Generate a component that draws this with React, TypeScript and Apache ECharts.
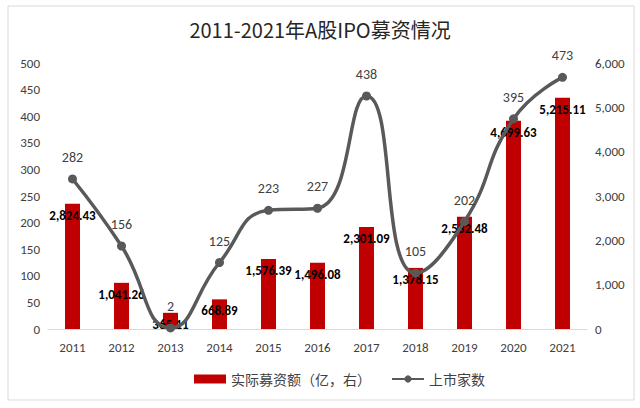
import React, { useEffect, useRef } from "react";
import * as echarts from "echarts";

const years = ["2011", "2012", "2013", "2014", "2015", "2016", "2017", "2018", "2019", "2020", "2021"];
const amounts = [2824.43, 1041.26, 365.11, 668.89, 1576.39, 1496.08, 2301.09, 1378.15, 2532.48, 4699.63, 5215.11];
const counts = [282, 156, 2, 125, 223, 227, 438, 105, 202, 395, 473];
const titleText = "2011-2021年A股IPO募资情况";
const barName = "实际募资额（亿，右）";
const lineName = "上市家数";

const fmt = (v: number) =>
  v.toLocaleString("en-US", { minimumFractionDigits: 2, maximumFractionDigits: 2 });

export default function App() {
  const ref = useRef<HTMLDivElement>(null);
  useEffect(() => {
    const chart = echarts.init(ref.current!, null, { renderer: "svg" });
    const font = "Calibri, 'Noto Sans', 'Noto Sans CJK SC', sans-serif";
    chart.setOption({
      animation: false,
      backgroundColor: "#ffffff",
      textStyle: { fontFamily: font },
      title: {
        text: titleText,
        left: "center",
        top: 14,
        textStyle: { fontSize: 20, fontWeight: "normal", color: "#262626", fontFamily: "'Noto Sans CJK SC', sans-serif" },
      },
      graphic: [
        {
          type: "rect",
          shape: { x: 8, y: 6, width: 626, height: 394 },
          style: { fill: "none", stroke: "#d9d9d9", lineWidth: 1 },
          silent: true,
          z: -1,
        },
      ],
      legend: {
        bottom: 17,
        left: 189,
        itemGap: 20,
        textStyle: { color: "#404040", fontSize: 14, fontFamily: "'Noto Sans CJK SC', sans-serif" },
        data: [
          { name: barName, icon: "rect", itemStyle: { color: "#c00000" } },
          { name: lineName },
        ],
        itemWidth: 32,
        itemHeight: 9,
      },
      grid: { left: 48, right: 53, top: 63, bottom: 79, containLabel: false },
      xAxis: {
        type: "category",
        data: years,
        axisLine: { lineStyle: { color: "#d9d9d9" } },
        axisTick: { show: false },
        axisLabel: { color: "#404040", fontSize: 13, margin: 12 },
      },
      yAxis: [
        {
          type: "value",
          min: 0,
          max: 500,
          interval: 50,
          position: "left",
          splitLine: { show: false },
          axisLine: { show: false },
          axisTick: { show: false },
          axisLabel: { color: "#404040", fontSize: 13, margin: 8 },
        },
        {
          type: "value",
          min: 0,
          max: 6000,
          interval: 1000,
          position: "right",
          splitLine: { show: false },
          axisLine: { show: false },
          axisTick: { show: false },
          axisLabel: {
            color: "#404040",
            fontSize: 13,
            margin: 8,
            formatter: (v: number) => v.toLocaleString("en-US"),
          },
        },
      ],
      series: [
        {
          name: barName,
          type: "bar",
          yAxisIndex: 1,
          data: amounts,
          barWidth: 15,
          itemStyle: { color: "#c00000" },
          label: {
            show: true,
            position: "insideTop",
            distance: 5,
            color: "#000000",
            fontWeight: "bold",
            fontSize: 13,
            formatter: (p: any) => fmt(p.value),
          },
          labelLayout: { hideOverlap: false },
          z: 2,
        },
        {
          name: lineName,
          type: "line",
          yAxisIndex: 0,
          data: counts,
          smooth: 0.5,
          symbol: "circle",
          symbolSize: 9,
          itemStyle: { color: "#595959" },
          lineStyle: { color: "#595959", width: 3.5 },
          label: {
            show: true,
            position: "top",
            distance: 10,
            color: "#404040",
            fontSize: 14,
          },
          z: 3,
        },
      ],
    });
    return () => chart.dispose();
  }, []);
  return (
    <div
      ref={ref}
      style={{ position: "fixed", left: 0, top: 0, width: 640, height: 408 }}
    />
  );
}
